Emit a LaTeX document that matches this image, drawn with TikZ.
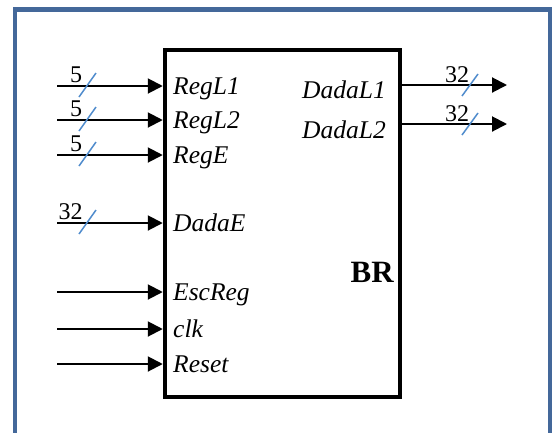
\documentclass[tikz,border=0pt]{standalone}
\usepackage{fontspec}
\setmainfont{Liberation Serif}
\usetikzlibrary{arrows.meta,calc}
\definecolor{framecol}{RGB}{68,104,154}
\definecolor{slashcol}{RGB}{80,140,205}
\tikzset{
  sig/.style={line width=2pt,-{Triangle[length=15pt,width=15pt]}},
  slash/.style={draw=slashcol,line width=1.5pt},
  lbl/.style={font=\fontsize{25.5}{27}\selectfont\itshape,inner sep=0pt},
  num/.style={font=\fontsize{24}{26}\selectfont,inner sep=0pt},
}
\begin{document}
\begin{tikzpicture}[x=1pt,y=-1pt]
\useasboundingbox (0,0) rectangle (556,432);
\clip (0,0) rectangle (556,432);
\fill[white] (0,0) rectangle (556,432);
\draw[framecol,line width=4.5pt] (15,9.5) rectangle (550,445);
\node[draw,line width=4.5pt,minimum width=235pt,minimum height=347pt,inner sep=0pt,anchor=north west] (box) at (162.75,47.75) {};
\node[font=\fontsize{31}{33}\selectfont\bfseries,inner sep=0pt,anchor=base east] (br) at (394,282) {BR};
% inputs
\foreach \name/\yy/\txt in {i1/86/RegL1,i2/120/RegL2,i3/155/RegE,i4/223/DadaE,i5/292/EscReg,i6/329/clk,i7/364/Reset}{
  \coordinate (\name) at (57,\yy);
  \coordinate (\name e) at (163,\yy);
  \draw[sig] (\name) -- (\name e -| box.west);
  \node[lbl,anchor=base west] (\name l) at (173,\yy+8) {\txt};
}
\foreach \name in {i1,i2,i3,i4}{
  \draw[slash] ($(\name)+(22,11)$) -- ($(\name)+(39,-13)$);
}
\node[num,anchor=base] (n1) at (76,82) {5};
\node[num,anchor=base] (n2) at (76,116) {5};
\node[num,anchor=base] (n3) at (76,151) {5};
\node[num,anchor=base] (n4) at (70.5,219) {32};
% outputs
\coordinate (o1) at (507,85);
\coordinate (o2) at (507,124);
\draw[sig] (box.east |- o1) -- (o1);
\draw[sig] (box.east |- o2) -- (o2);
\draw[slash] (462,96) -- (478,74);
\draw[slash] (462,135) -- (478,113);
\node[num,anchor=base] (n5) at (457,82) {32};
\node[num,anchor=base] (n6) at (457,121) {32};
\node[lbl,anchor=base east] (o1l) at (386,98) {DadaL1};
\node[lbl,anchor=base east] (o2l) at (386,138) {DadaL2};
\end{tikzpicture}
\end{document}
